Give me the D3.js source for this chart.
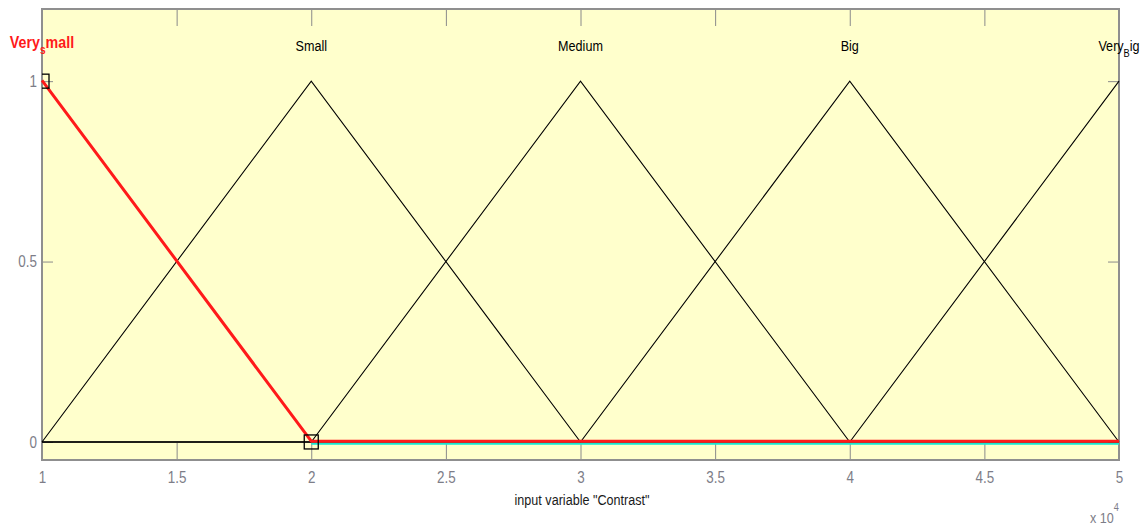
<!DOCTYPE html>
<html><head><meta charset="utf-8">
<script src="https://cdn.jsdelivr.net/npm/d3@7"></script>
<style>
html,body{margin:0;padding:0;background:#fff;}
svg{display:block;}
text{font-family:"Liberation Sans",Arial,sans-serif;}
</style></head>
<body>
<svg id="chart" width="1146" height="528"></svg>
<script>
// ---- data ----
const xPoints = [10000, 20000, 30000, 40000, 50000];
const mfNames = ["Very_small", "Small", "Medium", "Big", "Very_Big"];
const mfPeaks = [10000, 20000, 30000, 40000, 50000];
const veryRow  = [1, 0, 0, 0, 0];
const smallRow = [0, 1, 0, 0, 0];
const mediumRow = [0, 0, 1, 0, 0];
const bigRow   = [0, 0, 0, 1, 0];
const veryBigRow = [0, 0, 0, 0, 1];
const mfValues = [veryRow, smallRow, mediumRow, bigRow, veryBigRow];
const selectedIndex = 0;
const xTickValues = [10000, 15000, 20000, 25000, 30000, 35000, 40000, 45000, 50000];
const xTickLabels = ["1", "1.5", "2", "2.5", "3", "3.5", "4", "4.5", "5"];
const yTickValues = [0, 0.5, 1];
const yTickLabels = ["0", "0.5", "1"];
const xLabel = 'input variable "Contrast"';

// ---- layout ----
const svg = d3.select("#chart");
const L = 42, R = 1119, T = 9, B = 460;
const SX = 0.84; // narrow font look
const x = d3.scaleLinear().domain([10000, 50000]).range([L, R]);
const y = d3.scaleLinear().domain([-0.05, 1.2]).range([B, T]);

svg.append("rect").attr("x", L).attr("y", T).attr("width", R - L).attr("height", B - T)
  .attr("fill", "#ffffcc");

const gridGrey = "#8a8a8a";
const labelGrey = "#7d7d88";
// x ticks (bottom and top, inward)
const xb = svg.append("g").attr("transform", `translate(0,${B})`)
  .call(d3.axisBottom(x).tickValues(xTickValues).tickSizeInner(-17).tickSizeOuter(0)
    .tickFormat((d, i) => xTickLabels[i]).tickPadding(12));
xb.select(".domain").remove();
xb.selectAll("line").attr("stroke", gridGrey);
xb.selectAll("text").attr("fill", labelGrey).style("font-size", "16px")
  .attr("transform", `scale(${SX},1)`);

const xt = svg.append("g").attr("transform", `translate(0,${T})`)
  .call(d3.axisTop(x).tickValues(xTickValues).tickSizeInner(-17).tickSizeOuter(0).tickFormat(""));
xt.select(".domain").remove();
xt.selectAll("line").attr("stroke", gridGrey);

const yl = svg.append("g").attr("transform", `translate(${L},0)`)
  .call(d3.axisLeft(y).tickValues(yTickValues).tickSizeInner(-11).tickSizeOuter(0)
    .tickFormat((d, i) => yTickLabels[i]).tickPadding(6));
yl.select(".domain").remove();
yl.selectAll("line").attr("stroke", gridGrey);
yl.selectAll("text").attr("fill", labelGrey).style("font-size", "16px")
  .attr("transform", `scale(${SX},1)`);

const yr = svg.append("g").attr("transform", `translate(${R},0)`)
  .call(d3.axisRight(y).tickValues(yTickValues).tickSizeInner(-11).tickSizeOuter(0).tickFormat(""));
yr.select(".domain").remove();
yr.selectAll("line").attr("stroke", gridGrey);

// border
svg.append("rect").attr("x", L).attr("y", T).attr("width", R - L).attr("height", B - T)
  .attr("fill", "none").attr("stroke", "#8f8f8f").attr("stroke-width", 2);

// ---- membership lines ----
const line = d3.line().x(d => x(d[0])).y(d => y(d[1]));
const plot = svg.append("g");
mfValues.forEach((vals, i) => {
  if (i === selectedIndex) return;
  plot.append("path").datum(xPoints.map((p, k) => [p, vals[k]]))
    .attr("d", line).attr("fill", "none").attr("stroke", "#000").attr("stroke-width", 1.1);
});
// cyan highlight along the zero segment of the selected MF
const selVals = mfValues[selectedIndex];
const zeroPart = xPoints.map((p, k) => [p, selVals[k]]).filter(d => d[1] === 0);
plot.append("path").datum(zeroPart).attr("d", line)
  .attr("transform", "translate(0,1.8)")
  .attr("fill", "none").attr("stroke", "#19e6d2").attr("stroke-width", 2);
// selected MF in red
plot.append("path").datum(xPoints.map((p, k) => [p, selVals[k]]))
  .attr("d", line).attr("transform", "translate(0,-0.8)")
  .attr("fill", "none").attr("stroke", "#ff1a1a").attr("stroke-width", 3)
  .attr("stroke-linejoin", "round");
// vertex handles of the selected MF (clipped to axes)
svg.append("clipPath").attr("id", "clip").append("rect")
  .attr("x", L).attr("y", T).attr("width", R - L).attr("height", B - T);
const handles = [[xPoints[0], selVals[0]], [xPoints[1], selVals[1]]];
svg.append("g").attr("clip-path", "url(#clip)").selectAll("rect.h").data(handles).enter()
  .append("rect").attr("class", "h")
  .attr("x", d => x(d[0]) - 7).attr("y", d => y(d[1]) - 7)
  .attr("width", 14).attr("height", 14)
  .attr("fill", "none").attr("stroke", "#000").attr("stroke-width", 1.3);

// ---- MF labels ----
mfNames.forEach((name, i) => {
  const parts = name.split("_");
  const sel = i === selectedIndex;
  const t = svg.append("text")
    .attr("transform", `translate(${x(mfPeaks[i])},${y(1.1) + (sel ? 3 : 6)}) scale(${SX},1)`)
    .attr("text-anchor", "middle")
    .attr("fill", sel ? "#ff1a1a" : "#000")
    .attr("font-weight", sel ? "bold" : "normal")
    .style("font-size", sel ? "17px" : "15px");
  if (parts.length === 2) {
    t.append("tspan").text(parts[0]);
    t.append("tspan").text(parts[1][0]).attr("dy", 6).style("font-size", sel ? "12px" : "11px");
    t.append("tspan").text(parts[1].slice(1)).attr("dy", -6);
  } else {
    t.text(name);
  }
});

// ---- axis label and exponent ----
svg.append("text").attr("transform", `translate(582,505) scale(${SX},1)`)
  .attr("text-anchor", "middle")
  .attr("fill", "#1a1a1a").style("font-size", "15px").text(xLabel);
const ex = svg.append("text").attr("transform", `translate(1090,523) scale(${SX},1)`)
  .attr("fill", labelGrey).style("font-size", "15px");
ex.append("tspan").text("x 10");
ex.append("tspan").text("4").attr("dy", -12).style("font-size", "11px");
</script>
</body></html>
